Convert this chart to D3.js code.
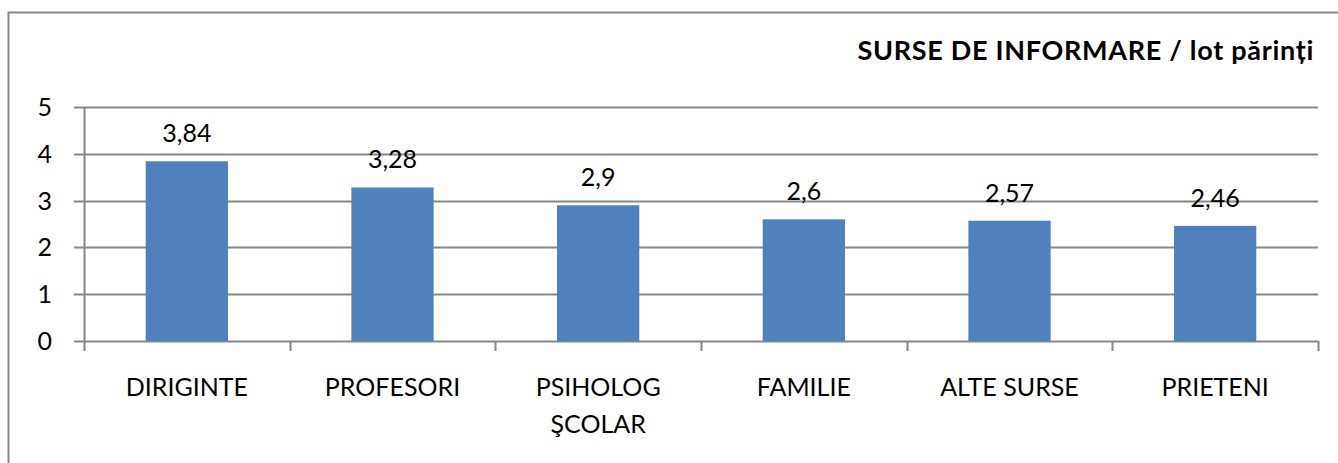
<!DOCTYPE html>
<html>
<head>
<meta charset="utf-8">
<script src="https://cdn.jsdelivr.net/npm/d3@7"></script>
<style>
  body { margin: 0; background: #fff; }
  svg text { font-family: Lato, "Open Sans", sans-serif; fill: #000; }
</style>
</head>
<body>
<svg id="chart"></svg>
<script>
var categories = ["DIRIGINTE", "PROFESORI", "PSIHOLOG ŞCOLAR", "FAMILIE", "ALTE SURSE", "PRIETENI"]
var values = [3.84, 3.28, 2.9, 2.6, 2.57, 2.46]
var valueLabels = ["3,84", "3,28", "2,9", "2,6", "2,57", "2,46"]
var yTicks = [0, 1, 2, 3, 4, 5]
var title = "SURSE DE INFORMARE / lot părinți"

var width = 1338, height = 463
var margin = {top: 107, right: 20, bottom: 122, left: 84}

var svg = d3.select("#chart")
	.attr("width", width)
	.attr("height", height)

// outer chart frame (right and bottom edges fall off the picture)
svg.append("rect")
	.attr("x", 8.5)
	.attr("y", 12.5)
	.attr("width", 1345)
	.attr("height", 470)
	.attr("fill", "#fff")
	.attr("stroke", "#878787")
	.attr("stroke-width", 2)

var xScale = d3.scaleBand()
	.domain(categories)
	.range([margin.left, width - margin.right])
	.paddingInner(0.6)
	.paddingOuter(0.3)

var yScale = d3.scaleLinear()
	.domain([0, 5])
	.range([height - margin.bottom, margin.top])

var x0 = margin.left, x1 = width - margin.right

// gridlines with left tick stubs
svg.selectAll(".grid")
	.data(yTicks)
	.enter()
	.append("line")
	.attr("class", "grid")
	.attr("x1", x0 - 10)
	.attr("x2", x1)
	.attr("y1", d => Math.round(yScale(d)) + 0.5)
	.attr("y2", d => Math.round(yScale(d)) + 0.5)
	.attr("stroke", "#878787")
	.attr("stroke-width", 2)

// y axis line
svg.append("line")
	.attr("x1", x0 + 0.5)
	.attr("x2", x0 + 0.5)
	.attr("y1", yScale(5))
	.attr("y2", yScale(0) + 10)
	.attr("stroke", "#878787")
	.attr("stroke-width", 2)

// x category boundary ticks
var bounds = d3.range(categories.length + 1).map(i => x0 + i * (x1 - x0) / categories.length)
svg.selectAll(".xtick")
	.data(bounds.slice(1))
	.enter()
	.append("line")
	.attr("class", "xtick")
	.attr("x1", d => Math.round(d) + 0.5)
	.attr("x2", d => Math.round(d) + 0.5)
	.attr("y1", yScale(0))
	.attr("y2", yScale(0) + 10)
	.attr("stroke", "#878787")
	.attr("stroke-width", 2)

// y tick labels
svg.selectAll(".ylabel")
	.data(yTicks)
	.enter()
	.append("text")
	.attr("class", "ylabel")
	.attr("x", 52)
	.attr("y", d => yScale(d) + 9)
	.attr("text-anchor", "end")
	.style("font-size", "25px")
	.text(d => d)

// bars
svg.selectAll(".bar")
	.data(values)
	.enter()
	.append("rect")
	.attr("class", "bar")
	.attr("x", (d, i) => xScale(categories[i]))
	.attr("y", d => yScale(d))
	.attr("width", xScale.bandwidth())
	.attr("height", d => yScale(0) - yScale(d))
	.attr("fill", "#4F81BD")

// value labels
svg.selectAll(".vlabel")
	.data(values)
	.enter()
	.append("text")
	.attr("class", "vlabel")
	.attr("x", (d, i) => xScale(categories[i]) + xScale.bandwidth() / 2)
	.attr("y", d => yScale(d) - 19)
	.attr("text-anchor", "middle")
	.style("font-size", "25px")
	.text((d, i) => valueLabels[i])

// category labels (the long two-word one wraps)
svg.selectAll(".xlabel")
	.data(categories)
	.enter()
	.append("text")
	.attr("class", "xlabel")
	.attr("x", d => xScale(d) + xScale.bandwidth() / 2)
	.attr("y", 396)
	.attr("text-anchor", "middle")
	.style("font-size", "25px")
	.each(function(d){
		var words = d === "PSIHOLOG ŞCOLAR" ? d.split(" ") : [d]
		var t = d3.select(this)
		words.forEach((w, i) => {
			t.append("tspan")
				.attr("x", t.attr("x"))
				.attr("dy", i == 0 ? 0 : 37)
				.text(w)
		})
	})

// title
svg.append("text")
	.attr("x", 1314)
	.attr("y", 60)
	.attr("text-anchor", "end")
	.style("font-size", "27px")
	.style("font-weight", "bold")
	.style("letter-spacing", "0.7px")
	.text(title)
</script>
</body>
</html>
